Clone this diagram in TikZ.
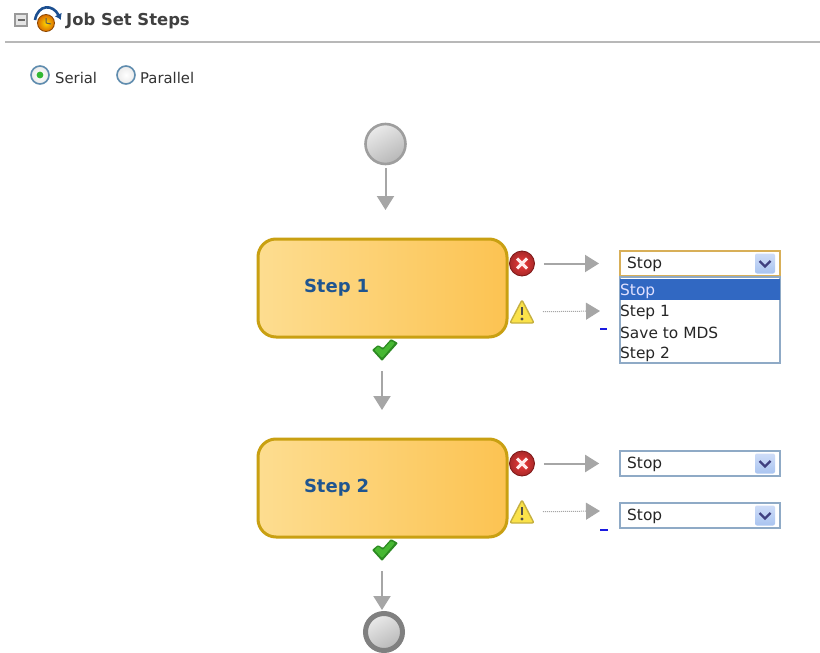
\documentclass[tikz,border=0pt]{standalone}
\usepackage{fontspec}
\setmainfont{DejaVu Sans}
\usepackage{xcolor}
\usetikzlibrary{arrows.meta}
\definecolor{flowgrey}{HTML}{A6A6A6}
\definecolor{comboedge}{HTML}{8FAAC6}
\definecolor{comboglow}{HTML}{D8AF58}
\definecolor{stepedge}{HTML}{C9A012}
\definecolor{stepleft}{HTML}{FDDD90}
\definecolor{stepright}{HTML}{FCC352}
\definecolor{steptext}{HTML}{1F5590}
\definecolor{rowblue}{HTML}{3168C2}
\definecolor{dashblue}{HTML}{1A1AE0}
\definecolor{errred}{HTML}{F03A3A}
\definecolor{errdark}{HTML}{7A1414}
\definecolor{warnfill}{HTML}{FAE24A}
\definecolor{warnedge}{HTML}{C6B040}
\definecolor{okgreen}{HTML}{46B832}
\definecolor{okdark}{HTML}{2C8A22}
\definecolor{radioedge}{HTML}{5F8CAE}
\definecolor{btntop}{HTML}{CFDDF8}
\definecolor{btnbot}{HTML}{A9C4F0}
\definecolor{arcblue}{HTML}{1C4F90}
\tikzset{
	err icon/.pic={
		\node[circle, minimum size=25pt, inner sep=0, draw=errdark, line width=0.8pt, inner color=errred, outer color=errred!70!black] (-c) at (0,0) {};
		\draw[white!92!red, line width=3pt] (-5,-5) -- (5,5) (-5,5) -- (5,-5);
	},
	warn icon/.pic={
		\coordinate (-c) at (0,0);
		\draw[fill=warnfill, draw=warnedge, line width=1.4pt, rounded corners=2pt] (-12,11) -- (0,-12) -- (12,11) -- cycle;
		\draw[black!70, line width=2.6pt] (0,-5) -- (0,3);
		\fill[black!70] (0,7) circle (1.6);
	},
	ok icon/.pic={
		\coordinate (-c) at (-3,0);
		\fill[okdark, rounded corners=1pt] (-13,0) -- (-3,11) -- (13,-7) -- (6,-11) -- (-2,-2) -- (-7,-5) -- cycle;
		\fill[okgreen, rounded corners=1pt] (-10.5,0) -- (-3,8) -- (10,-7) -- (6,-9) -- (-2,0) -- (-7,-3.5) -- cycle;
	}
}
\begin{document}
\begin{tikzpicture}[x=1pt,y=-1pt,
	end node/.style={circle, minimum size=40pt, inner sep=0, left color=black!8, right color=black!28, shading angle=30},
	step node/.style={rectangle, rounded corners=18pt, draw=stepedge, line width=3pt, left color=stepleft, right color=stepright, minimum width=249pt, minimum height=98pt, inner sep=0, text width=157pt, align=left, text=steptext, font=\fontsize{18}{20}\selectfont\bfseries},
	combo node/.style={rectangle, draw=comboedge, line width=1.6pt, fill=white, minimum width=160pt, minimum height=25pt, inner sep=0},
	combo text/.style={anchor=west, inner sep=0, font=\fontsize{15.4}{18}\selectfont, text=black!85},
	combo btn/.style={rectangle, rounded corners=2pt, minimum size=20pt, inner sep=0, top color=btntop, bottom color=btnbot},
	radio node/.style={circle, minimum size=18pt, inner sep=0, draw=radioedge, line width=1.6pt, inner color=white, outer color=black!8},
	flow/.style={-{Triangle[length=14pt,width=17pt]}, flowgrey, line width=2pt},
	soft flow/.style={-{Triangle[length=14pt,width=17pt]}, flowgrey, line width=1pt, densely dotted},
	chevron/.style={black!50!blue!50!gray, line width=2.2pt}
	]
	\useasboundingbox (0,0) rectangle (820,653);
	\fill[white] (0,0) rectangle (820,653);

	% Header
	\node[rectangle, draw=black!40, fill=black!10, line width=1.2pt, minimum size=12pt, inner sep=0] (fold) at (21,20) {};
	\draw[black!60, line width=1.2pt] (fold.center) +(-3.5,0) -- +(3.5,0);
	\node[circle, minimum size=17pt, inner sep=0, draw=black!45!orange, line width=0.8pt, inner color=yellow!70!orange, outer color=orange!85!black] (clock) at (46,23) {};
	\draw[black!65, line width=1pt] (clock.center) -- +(0,-5) (clock.center) -- +(5,1);
	\draw[arcblue, line width=2.6pt, -{Latex[length=6pt,width=8pt]}] (35,20) .. controls (38,4) and (53,4) .. (61,20);
	\node[anchor=west, inner sep=0, font=\fontsize{16.4}{18}\selectfont\bfseries, text=black!75] (title) at (66,20.5) {Job Set Steps};
	\draw[black!28, line width=1.4pt] (5,42) -- (820,42);

	% Radios
	\node[radio node] (serial) at (40,75) {};
	\fill[green!65!black!80] (serial.center) circle (3.4);
	\node[radio node] (parallel) at (126,75) {};
	\node[anchor=west, inner sep=0, font=\fontsize{14.8}{18}\selectfont, text=black!80] (seriallbl) at (55,78) {Serial};
	\node[anchor=west, inner sep=0, font=\fontsize{14.8}{18}\selectfont, text=black!80] (parallellbl) at (140,78) {Parallel};

	% Nodes
	\node[end node, draw=black!38, line width=2.6pt] (start) at (385.5,144) {};
	\node[step node] (step1) at (382.5,288) {Step 1};
	\node[step node] (step2) at (382.5,488) {Step 2};
	\node[end node, draw=black!50, line width=5pt, minimum size=37pt] (finish) at (384,632) {};

	\pic (ok1) at (385,350) {ok icon};
	\pic (ok2) at (385,550) {ok icon};
	\pic (err1) at (522,263.5) {err icon};
	\pic (err2) at (522,463.5) {err icon};
	\pic (warn1) at (522,312) {warn icon};
	\pic (warn2) at (522,512) {warn icon};

	% Dropdowns
	\node[combo node, draw=comboglow, line width=2pt] (combo1) at (700,263.5) {};
	\node[combo node] (combo2) at (700,463.5) {};
	\node[combo node] (combo3) at (700,515.5) {};
	\foreach \i/\y in {1/263.5, 2/463.5, 3/515.5} {
		\node[combo btn] (btn\i) at (765,\y) {};
		\draw[chevron] (759.5,\y-2.5) -- (765,\y+3) -- (770.5,\y-2.5);
		\node[combo text] (val\i) at (627,\y+1) {Stop};
	}
	\node[combo node, minimum height=86pt] (list) at (700,320) {};
	\fill[rowblue] (620,279) rectangle (779.5,300);
	\node[combo text, text=blue!12] (opt1) at (620,291) {Stop};
	\node[combo text] (opt2) at (620,312) {Step 1};
	\node[combo text] (opt3) at (620,332.5) {Save to MDS};
	\node[combo text] (opt4) at (620,354) {Step 2};

	\coordinate (tip1) at (385.5,210);
	\coordinate (tip2) at (382,410);
	\coordinate (tip3) at (382,610);
	\coordinate (tipw1) at (600,311);
	\coordinate (tipw2) at (600,511);

	% Connectors
	\draw[flow, shorten <=3pt] (start) -- (tip1);
	\draw[flow, shorten <=21pt] (ok1-c) -- (tip2);
	\draw[flow, shorten <=21pt] (ok2-c) -- (tip3);
	\draw[flow, shorten <=9pt, shorten >=20pt] (err1-c) -- (combo1.west);
	\draw[flow, shorten <=9pt, shorten >=20pt] (err2-c) -- (combo2.west);
	\draw[soft flow, shorten <=21pt] (warn1-c) -- (tipw1);
	\draw[soft flow, shorten <=21pt] (warn2-c) -- (tipw2);

	% Stray marks
	\draw[dashblue, line width=2pt] (600,328.5) -- (607,328.5);
	\draw[dashblue, line width=2pt] (600,529.5) -- (608,529.5);
\end{tikzpicture}
\end{document}
